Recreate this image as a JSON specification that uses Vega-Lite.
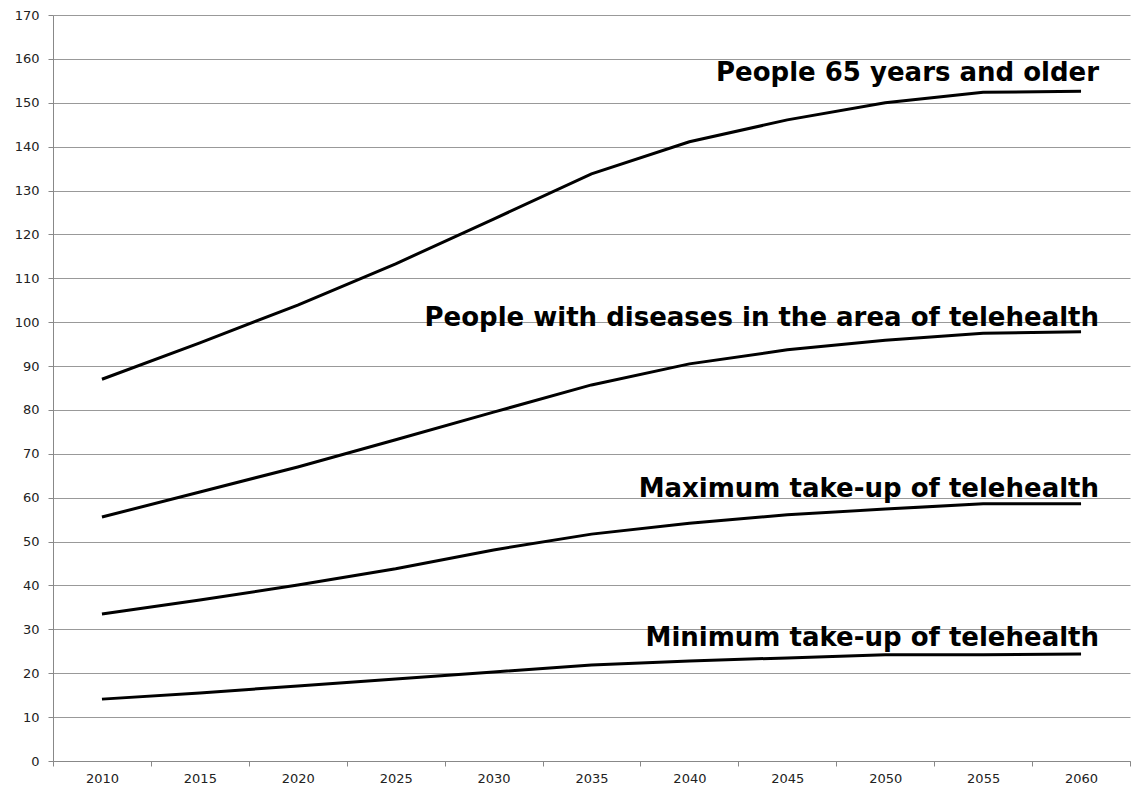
{
  "$schema": "https://vega.github.io/schema/vega-lite/v6.json",
  "width": 1077,
  "height": 746,
  "autosize": {"type": "none"},
  "padding": {"left": 53, "top": 15, "right": 13, "bottom": 26},
  "background": "white",
  "config": {"view": {"stroke": null}},
  "datasets": {
    "series": [
      {"year": 2010, "series": "65+", "value": 87.0},
      {"year": 2015, "series": "65+", "value": 95.3},
      {"year": 2020, "series": "65+", "value": 103.9},
      {"year": 2025, "series": "65+", "value": 113.3},
      {"year": 2030, "series": "65+", "value": 123.5},
      {"year": 2035, "series": "65+", "value": 133.8},
      {"year": 2040, "series": "65+", "value": 141.1},
      {"year": 2045, "series": "65+", "value": 146.1},
      {"year": 2050, "series": "65+", "value": 150.0},
      {"year": 2055, "series": "65+", "value": 152.4},
      {"year": 2060, "series": "65+", "value": 152.6},
      {"year": 2010, "series": "diseases", "value": 55.6},
      {"year": 2015, "series": "diseases", "value": 61.3},
      {"year": 2020, "series": "diseases", "value": 67.0},
      {"year": 2025, "series": "diseases", "value": 73.2},
      {"year": 2030, "series": "diseases", "value": 79.5},
      {"year": 2035, "series": "diseases", "value": 85.7},
      {"year": 2040, "series": "diseases", "value": 90.5},
      {"year": 2045, "series": "diseases", "value": 93.7},
      {"year": 2050, "series": "diseases", "value": 95.9},
      {"year": 2055, "series": "diseases", "value": 97.5},
      {"year": 2060, "series": "diseases", "value": 97.8},
      {"year": 2010, "series": "max", "value": 33.5},
      {"year": 2015, "series": "max", "value": 36.7},
      {"year": 2020, "series": "max", "value": 40.1},
      {"year": 2025, "series": "max", "value": 43.8},
      {"year": 2030, "series": "max", "value": 48.1},
      {"year": 2035, "series": "max", "value": 51.7},
      {"year": 2040, "series": "max", "value": 54.2},
      {"year": 2045, "series": "max", "value": 56.1},
      {"year": 2050, "series": "max", "value": 57.4},
      {"year": 2055, "series": "max", "value": 58.6},
      {"year": 2060, "series": "max", "value": 58.6},
      {"year": 2010, "series": "min", "value": 14.1},
      {"year": 2015, "series": "min", "value": 15.5},
      {"year": 2020, "series": "min", "value": 17.1},
      {"year": 2025, "series": "min", "value": 18.7},
      {"year": 2030, "series": "min", "value": 20.3},
      {"year": 2035, "series": "min", "value": 21.9},
      {"year": 2040, "series": "min", "value": 22.8},
      {"year": 2045, "series": "min", "value": 23.5},
      {"year": 2050, "series": "min", "value": 24.2},
      {"year": 2055, "series": "min", "value": 24.2},
      {"year": 2060, "series": "min", "value": 24.4}
    ],
    "labels": [
      {"year": 2060, "value": 156.8, "label": "People 65 years and older"},
      {"year": 2060, "value": 101.0, "label": "People with diseases in the area of telehealth"},
      {"year": 2060, "value": 62.0, "label": "Maximum take-up of telehealth"},
      {"year": 2060, "value": 28.0, "label": "Minimum take-up of telehealth"}
    ]
  },
  "layer": [
    {
      "data": {"name": "series"},
      "mark": {"type": "line", "color": "black", "strokeWidth": 3, "strokeCap": "butt"},
      "encoding": {
        "x": {
          "field": "year", "type": "ordinal",
          "scale": {"type": "band", "paddingInner": 0, "paddingOuter": 0},
          "axis": {
            "title": null, "labelAngle": 0, "tickBand": "extent",
            "domainColor": "#888888", "tickColor": "#888888", "tickSize": 5,
            "labelFont": "DejaVu Sans", "labelFontSize": 13, "labelColor": "#222222",
            "labelPadding": 6, "grid": false
          }
        },
        "y": {
          "field": "value", "type": "quantitative",
          "scale": {"domain": [0, 170], "nice": false},
          "axis": {
            "title": null, "values": [0,10,20,30,40,50,60,70,80,90,100,110,120,130,140,150,160,170],
            "grid": true, "gridColor": "#999999", "gridWidth": 1,
            "domainColor": "#888888", "tickColor": "#888888", "tickSize": 5,
            "labelFont": "DejaVu Sans", "labelFontSize": 13, "labelColor": "#222222",
            "labelPadding": 9
          }
        },
        "detail": {"field": "series"}
      }
    },
    {
      "data": {"name": "labels"},
      "mark": {"type": "text", "align": "right", "baseline": "middle", "dx": 18,
               "font": "DejaVu Sans", "fontWeight": "bold", "fontSize": 26, "color": "black"},
      "encoding": {
        "x": {"field": "year", "type": "ordinal"},
        "y": {"field": "value", "type": "quantitative"},
        "text": {"field": "label"}
      }
    }
  ]
}
